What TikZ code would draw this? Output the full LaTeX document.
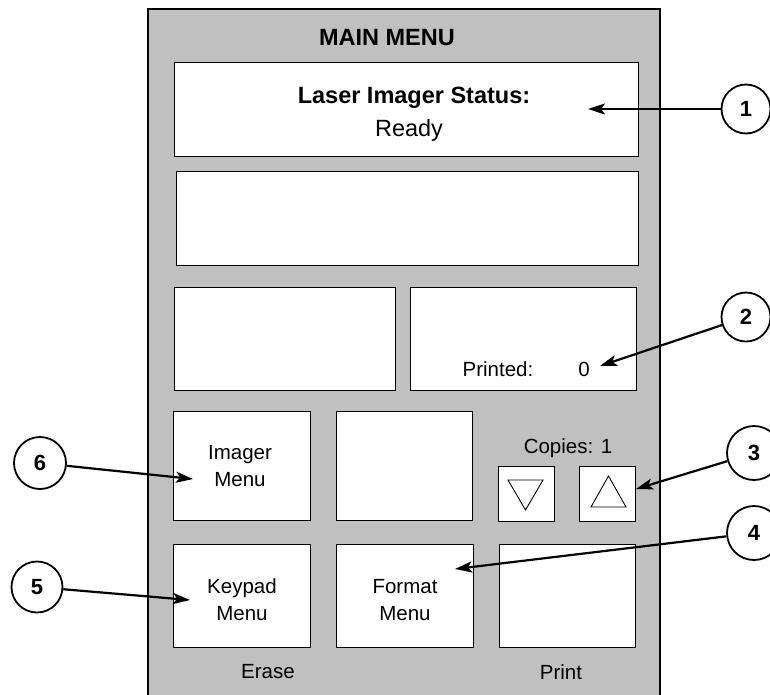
\documentclass[tikz,border=0pt]{standalone}
\usepackage{fontspec}
\setmainfont{Liberation Sans}
\usetikzlibrary{arrows.meta}
\definecolor{panelgray}{HTML}{C0C0C0}
\begin{document}
\begin{tikzpicture}[x=1pt,y=-1pt,
  box/.style={draw=black,fill=white,line width=0.9pt,inner sep=0pt},
  lbl/.style={inner sep=0pt,align=center,font=\fontsize{20.5}{27}\selectfont},
  biglbl/.style={inner sep=0pt,font=\fontsize{23.5}{28}\selectfont},
  callout/.style={circle,draw=black,fill=white,line width=1.8pt,inner sep=0pt,
    font=\bfseries\fontsize{22}{26}\selectfont},
  pointer/.style={line width=2.2pt,-{Stealth[length=17pt,width=11pt,inset=4pt]}}]
\useasboundingbox (0,0) rectangle (770,694);
\clip (0,0) rectangle (770,694);

% screen panel
\draw[fill=panelgray,line width=2pt] (148,9) rectangle (660,720);
\node[biglbl,font=\bfseries\fontsize{23.5}{28}\selectfont] (title) at (387,38) {MAIN MENU};

% display fields
\node[box,minimum width=464pt,minimum height=94pt] (status) at (406,109) {};
\node[biglbl,font=\bfseries\fontsize{23.5}{28}\selectfont] (statuslbl) at (414,98) {Laser Imager Status:};
\node[biglbl] (ready) at (409,130) {Ready};
\node[box,minimum width=462pt,minimum height=94pt] (message) at (407,218) {};
\node[box,minimum width=221pt,minimum height=103pt] (info) at (284.5,338.5) {};
\node[box,minimum width=226pt,minimum height=103pt] (counter) at (523,338.5) {};
\node[lbl] (printed) at (498,369) {Printed:};
\node[lbl] (count) at (584,369) {0};

% buttons
\node[box,minimum width=137pt,minimum height=109pt] (imager) at (241.5,465.5) {};
\node[lbl] at (240,466) {Imager\\Menu};
\node[box,minimum width=136pt,minimum height=109pt] (blank) at (404,465.5) {};
\node[lbl] (copies) at (568,448) {Copies: 1};
\node[box,minimum width=56pt,minimum height=55pt] (down) at (526,493.5) {};
\node[box,minimum width=56pt,minimum height=55pt] (up) at (607,493.5) {};
\draw[line width=0.9pt,line join=miter] (508,480) -- (543,480) -- (525.5,510) -- cycle;
\draw[line width=0.9pt,line join=miter] (591,507) -- (626,507) -- (608.5,476) -- cycle;
\node[box,minimum width=137pt,minimum height=103pt] (keypad) at (241.5,595.5) {};
\node[lbl] at (242,600) {Keypad\\Menu};
\node[box,minimum width=137pt,minimum height=103pt] (format) at (404.5,595.5) {};
\node[lbl] at (405,600) {Format\\Menu};
\node[box,minimum width=136pt,minimum height=103pt] (print) at (567,595.5) {};
\node[lbl] (erase) at (268,672) {Erase};
\node[lbl] (printlbl) at (561,672) {Print};

% callouts
\node[callout,minimum size=49pt] (c1) at (746,109) {1};
\node[callout,minimum size=49pt] (c2) at (746,317) {2};
\node[callout,minimum size=54pt] (c3) at (754,453) {3};
\node[callout,minimum size=54pt] (c4) at (754,533) {4};
\node[callout,minimum size=51pt] (c5) at (37,587) {5};
\node[callout,minimum size=52pt] (c6) at (40,463) {6};

\coordinate (t1) at (588,109);
\coordinate (t2) at (600,366);
\coordinate (t3) at (636,489);
\coordinate (t4) at (455,569);
\coordinate (t5) at (190,600);
\coordinate (t6) at (193,479);

\draw[pointer] (c1) -- (t1);
\draw[pointer] (c2) -- (t2);
\draw[pointer] (c3) -- (t3);
\draw[pointer] (c4) -- (t4);
\draw[pointer] (c5) -- (t5);
\draw[pointer] (c6) -- (t6);
\end{tikzpicture}
\end{document}
